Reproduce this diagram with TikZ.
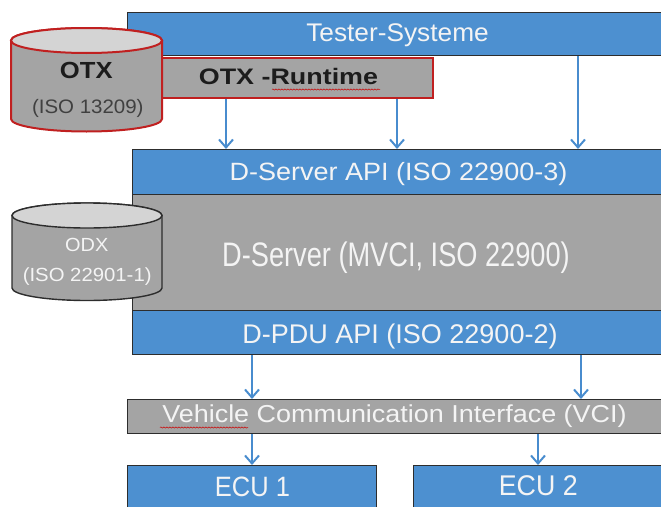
\documentclass[tikz,border=0pt]{standalone}
\usepackage{fontspec}
\setmainfont{Liberation Sans}
\usetikzlibrary{arrows.meta,decorations.pathmorphing}

\definecolor{boxblue}{RGB}{77,144,208}
\definecolor{boxgrey}{RGB}{164,164,164}
\definecolor{lidgrey}{RGB}{212,212,212}
\definecolor{edgegrey}{RGB}{45,45,45}
\definecolor{otxred}{RGB}{192,32,32}
\definecolor{lighttext}{RGB}{244,244,244}
\definecolor{darktext}{RGB}{28,28,28}
\definecolor{midtext}{RGB}{64,64,64}
\definecolor{arrowblue}{RGB}{72,140,206}

% text of a given size, stretched horizontally by a factor
\newcommand\lbltext[3]{\fontsize{#1pt}{#1pt}\selectfont\scalebox{#2}[1]{#3}}

\tikzset{
  layer/.style={rectangle, draw=edgegrey, line width=1.4pt, inner sep=0pt, anchor=north west},
  bluelayer/.style={layer, fill=boxblue},
  greylayer/.style={layer, fill=boxgrey},
  lbl/.style={anchor=base, inner sep=0pt, text=lighttext},
  flow/.style={draw=arrowblue, line width=2pt,
    -{Straight Barb[length=8pt,width=14pt,line width=2pt]}},
  spellmark/.style={draw=red!80!black, line width=0.5pt,
    decorate, decoration={snake, amplitude=0.6pt, segment length=3pt}},
}

\begin{document}
\begin{tikzpicture}[x=1pt,y=-1pt]
\useasboundingbox (0,0) rectangle (661,506);
\clip (0,0) rectangle (661,506);

% ---- layer boxes ----
\node[bluelayer, minimum width=540pt, minimum height=43pt] (tester) at (126.5,12) {};
\node[greylayer, draw=otxred, line width=2pt, minimum width=282pt, minimum height=40pt] (runtime) at (150,57) {};
\node[bluelayer, minimum width=535pt, minimum height=45pt] (dsapi) at (131.5,149) {};
\node[greylayer, minimum width=535pt, minimum height=116pt] (dserver) at (131.5,194) {};
\node[bluelayer, minimum width=535pt, minimum height=44pt] (dpdu) at (131.5,310) {};
\node[greylayer, minimum width=540pt, minimum height=34pt] (vci) at (127,399) {};
\node[bluelayer, minimum width=249pt, minimum height=50pt] (ecu1) at (127,465) {};
\node[bluelayer, minimum width=253pt, minimum height=50pt] (ecu2) at (413,465) {};

% ---- OTX data store ----
\filldraw[fill=boxgrey, draw=otxred, line width=2pt]
  (11,40.5) -- (11,119) arc[start angle=180, end angle=360, x radius=75.5pt, y radius=12.5pt]
  -- (162,40.5) arc[start angle=0, end angle=180, x radius=75.5pt, y radius=12.5pt] -- cycle;
\filldraw[fill=lidgrey, draw=otxred, line width=2pt]
  (86.5,40.5) ellipse[x radius=75.5pt, y radius=12.5pt];
\coordinate (otx) at (86.5,86);

% ---- ODX data store ----
\filldraw[fill=boxgrey, draw=edgegrey, line width=1.4pt]
  (12,215.5) -- (12,288) arc[start angle=180, end angle=360, x radius=75pt, y radius=12.5pt]
  -- (162,215.5) arc[start angle=0, end angle=180, x radius=75pt, y radius=12.5pt] -- cycle;
\filldraw[fill=lidgrey, draw=edgegrey, line width=1.4pt]
  (87,215.5) ellipse[x radius=75pt, y radius=12.5pt];
\coordinate (odx) at (87,258);

% ---- labels ----
\node[lbl] (t-tester) at (397.5,41.7) {\lbltext{25.5}{1.03}{Tester-Systeme}};
\node[lbl, text=darktext] (t-otx) at (86.3,78.3) {\lbltext{23.3}{1.1}{\bfseries OTX}};
\node[lbl, text=midtext] (t-otxiso) at (87.8,113.3) {\lbltext{19.5}{1.05}{(ISO 13209)}};
\node[lbl, text=darktext] (t-runtime) at (288.5,84.3) {\lbltext{22.4}{1.2}{\bfseries OTX -Runtime}};
\node[lbl] (t-dsapi) at (398.5,180) {\lbltext{25}{1.08}{D-Server API (ISO 22900-3)}};
\node[lbl] (t-dserver) at (396,266.7) {\lbltext{34}{0.8}{D-Server (MVCI, ISO 22900)}};
\node[lbl] (t-odx) at (86.7,251) {\lbltext{19}{1.05}{ODX}};
\node[lbl] (t-odxiso) at (87.2,281.7) {\lbltext{19}{1.07}{(ISO 22901-1)}};
\node[lbl] (t-dpdu) at (400,343) {\lbltext{27}{1.0}{D-PDU API (ISO 22900-2)}};
\node[lbl] (t-vci) at (394.5,422.3) {\lbltext{24.5}{1.1}{Vehicle Communication Interface (VCI)}};
\node[lbl] (t-ecu1) at (252.5,496.7) {\lbltext{28}{0.91}{ECU 1}};
\node[lbl] (t-ecu2) at (538.3,495.7) {\lbltext{28.5}{0.94}{ECU 2}};

% spell-check underlines
\draw[spellmark] (272,89.5) -- (380,89.5);
\draw[spellmark] (160,427.5) -- (248,427.5);

% ---- connectors ----
\coordinate (c1) at (226,0);
\coordinate (c2) at (397,0);
\coordinate (c3) at (578,0);
\coordinate (c4) at (252,0);
\coordinate (c5) at (581,0);
\coordinate (c6) at (538,0);
\draw[flow] (runtime.south -| c1) -- (dsapi.north -| c1);
\draw[flow] (runtime.south -| c2) -- (dsapi.north -| c2);
\draw[flow] (tester.south -| c3) -- (dsapi.north -| c3);
\draw[flow] (dpdu.south -| c4) -- (vci.north -| c4);
\draw[flow] (dpdu.south -| c5) -- (vci.north -| c5);
\draw[flow] (vci.south -| c4) -- (ecu1.north -| c4);
\draw[flow] (vci.south -| c6) -- (ecu2.north -| c6);
\end{tikzpicture}
\end{document}
